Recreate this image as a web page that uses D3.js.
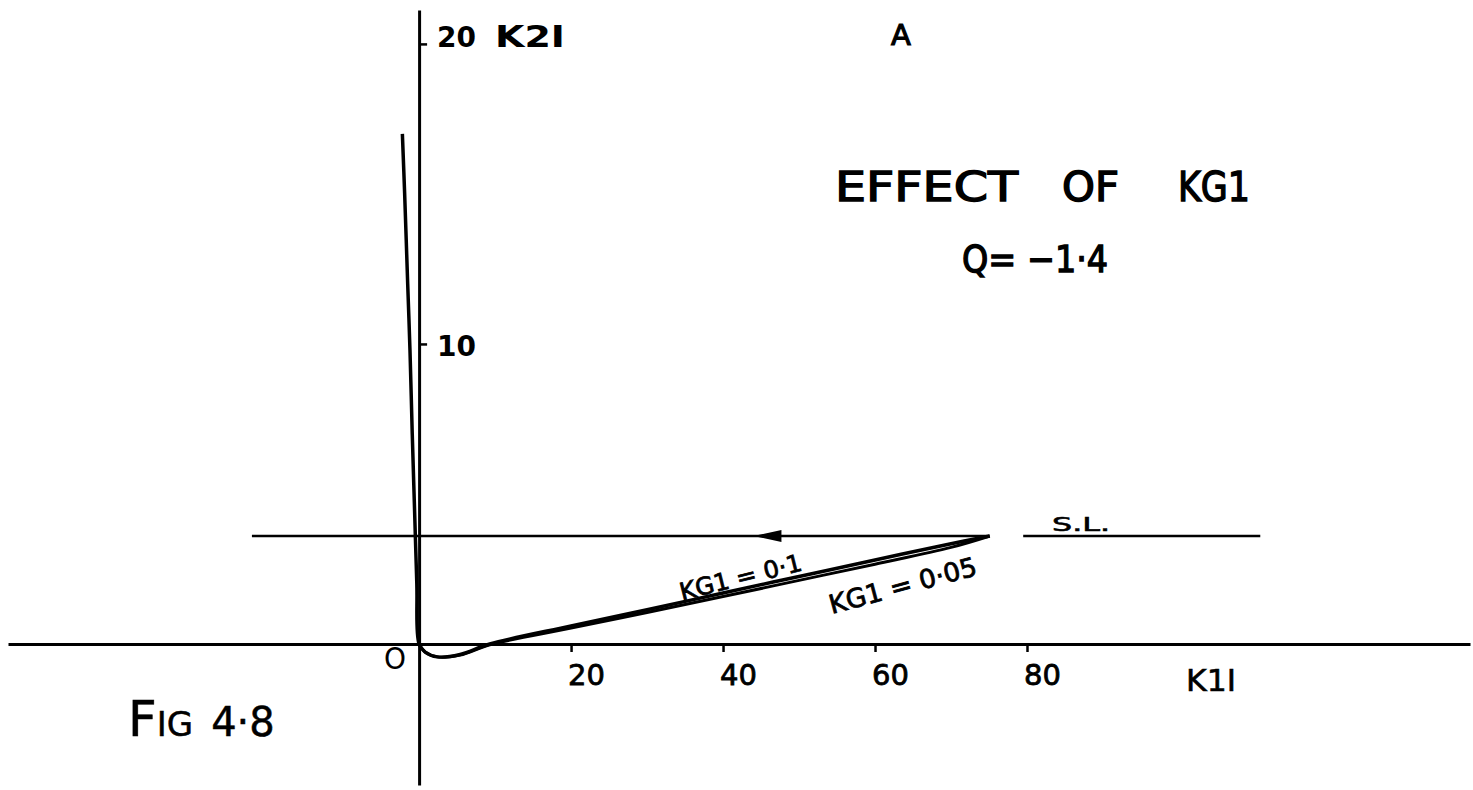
<!DOCTYPE html>
<html>
<head>
<meta charset="utf-8">
<script src="https://cdn.jsdelivr.net/npm/d3@7"></script>
<style>
  body { margin: 0; background: #fff; }
  svg { display: block; }
  text { font-family: "DejaVu Sans", sans-serif; fill: #000; }
</style>
</head>
<body>
<script>
// values (effect of KG1, Q = -1.4)
var k1Ticks = [20, 40, 60, 80];
var k2Ticks = [10, 20];

// trajectory for KG1 = 0.1 (K1I, K2I)
var kg01K1 = [-2.2, -1.9, -1.5, -1.2, -0.9, -0.6, -0.3, 0, 0.8, 2.4, 5.4, 9.3, 20, 30, 40, 50, 60, 70, 75.1];
var kg01K2 = [17.0, 15.0, 12.0, 9.8, 7.0, 4.5, 2.0, 0, -0.27, -0.43, -0.35, 0, 0.6, 1.14, 1.7, 2.25, 2.8, 3.34, 3.6];

// trajectory for KG1 = 0.05
var kg005K1 = [0, 0.8, 2.4, 5.4, 9.3, 20, 30, 40, 50, 60, 70, 75.1];
var kg005K2 = [0, -0.27, -0.43, -0.37, -0.03, 0.53, 1.05, 1.58, 2.12, 2.66, 3.22, 3.6];

// S.L. line
var slK2 = 3.6;
var slSpans = [[-22, 75], [79.5, 110.7]];
var slArrowK1 = 44;

var W = 1473, H = 790;

var svg = d3.select("body").append("svg")
    .attr("width", W)
    .attr("height", H);

svg.append("rect").attr("width", W).attr("height", H).attr("fill", "#fff");

// hand drawn scales: 0 at (419, 644), 7.6 px per unit of K1I, 30 px per unit of K2I
var x = d3.scaleLinear().domain([-54.1, 138.3]).range([8, 1470]);
var y = d3.scaleLinear().domain([-4.7, 21.13]).range([785, 10]);

// x axis
var xAxis = svg.append("g")
    .attr("transform", "translate(0," + y(0) + ")")
    .call(d3.axisBottom(x).tickValues(k1Ticks).tickSize(8).tickSizeOuter(0).tickPadding(12));
xAxis.select(".domain").attr("stroke", "#000").attr("stroke-width", 3);
xAxis.selectAll(".tick line").attr("stroke", "#000").attr("stroke-width", 2.5);
xAxis.selectAll(".tick text")
    .attr("dx", 15)
    .style("font-size", "29px")
    .style("font-family", "DejaVu Sans, sans-serif")
    .attr("fill", "#000")
    .attr("stroke", "#000").attr("stroke-width", 0.8);

// y axis
var yAxis = svg.append("g")
    .attr("transform", "translate(" + x(0) + ",0)")
    .call(d3.axisRight(y).tickValues(k2Ticks).tickSize(8).tickSizeOuter(0).tickPadding(10));
yAxis.select(".domain").attr("stroke", "#000").attr("stroke-width", 3);
yAxis.selectAll(".tick line").attr("stroke", "#000").attr("stroke-width", 2.5);
yAxis.selectAll(".tick text")
    .attr("dy", function (d) { return d === 20 ? "0.1em" : "0.4em"; })
    .style("font-size", "28px")
    .style("font-weight", "bold")
    .style("font-family", "DejaVu Sans, sans-serif")
    .attr("fill", "#000");

// S.L. line with arrow
slSpans.forEach(function (s) {
    svg.append("line")
        .attr("x1", x(s[0])).attr("x2", x(s[1]))
        .attr("y1", y(slK2)).attr("y2", y(slK2))
        .attr("stroke", "#000").attr("stroke-width", 2.5);
});
var ax = x(slArrowK1), ay = y(slK2);
svg.append("path")
    .attr("d", "M" + ax + "," + ay + "L" + (ax + 28) + "," + (ay - 6) + "L" + (ax + 28) + "," + (ay + 6) + "Z")
    .attr("fill", "#000");

// trajectories
var line = d3.line()
    .x(function (d) { return x(d[0]); })
    .y(function (d) { return y(d[1]); })
    .curve(d3.curveCatmullRom);

svg.append("path")
    .datum(d3.zip(kg01K1, kg01K2))
    .attr("d", line)
    .attr("fill", "none").attr("stroke", "#000").attr("stroke-width", 3.5);

svg.append("path")
    .datum(d3.zip(kg005K1, kg005K2))
    .attr("d", line)
    .attr("fill", "none").attr("stroke", "#000").attr("stroke-width", 3);

// labels
function label(txt, px, py, size, opts) {
    opts = opts || {};
    var t = svg.append("text")
        .attr("x", px).attr("y", py)
        .style("font-size", size + "px")
        .text(txt);
    if (opts.weight) t.style("font-weight", opts.weight);
    if (opts.rotate) t.attr("transform", "rotate(" + opts.rotate + "," + px + "," + py + ")");
    if (opts.len) t.attr("textLength", opts.len).attr("lengthAdjust", "spacingAndGlyphs");
    if (opts.anchor) t.attr("text-anchor", opts.anchor);
    if (opts.thick) t.attr("stroke", "#000").attr("stroke-width", opts.thick);
    return t;
}

label("K2I", 495, 47, 30, {weight: "bold", len: 70});
label("A", 891, 45, 29, {thick: 1.2});
label("O", 384, 669, 30, {len: 22});
label("K1I", 1186, 691, 30, {len: 50, thick: 0.6});

label("EFFECT", 835, 201, 40, {len: 183, thick: 1.4});
label("OF", 1062, 201, 40, {len: 57, thick: 1.4});
label("KG1", 1178, 201, 40, {len: 72, thick: 1.4});
label("Q= \u22121\u00b74", 962, 272, 38, {len: 146, thick: 1.4});

label("S.L.", x(83.3), y(slK2) - 5, 20, {len: 58, thick: 0.6});

label("KG1 = 0\u00b71", x(34.6), y(1.45), 24, {rotate: -14, len: 125, thick: 0.8});
label("KG1 = 0\u00b705", x(54.3), y(1.0), 26, {rotate: -15, len: 152, thick: 0.8});

var fig = svg.append("text").attr("x", 128).attr("y", 736).attr("stroke", "#000").attr("stroke-width", 0.5);
fig.append("tspan").style("font-size", "50px").text("F");
fig.append("tspan").style("font-size", "34px").text("IG");
fig.append("tspan").attr("dx", 18).style("font-size", "40px").text("4\u00b78");
</script>
</body>
</html>
